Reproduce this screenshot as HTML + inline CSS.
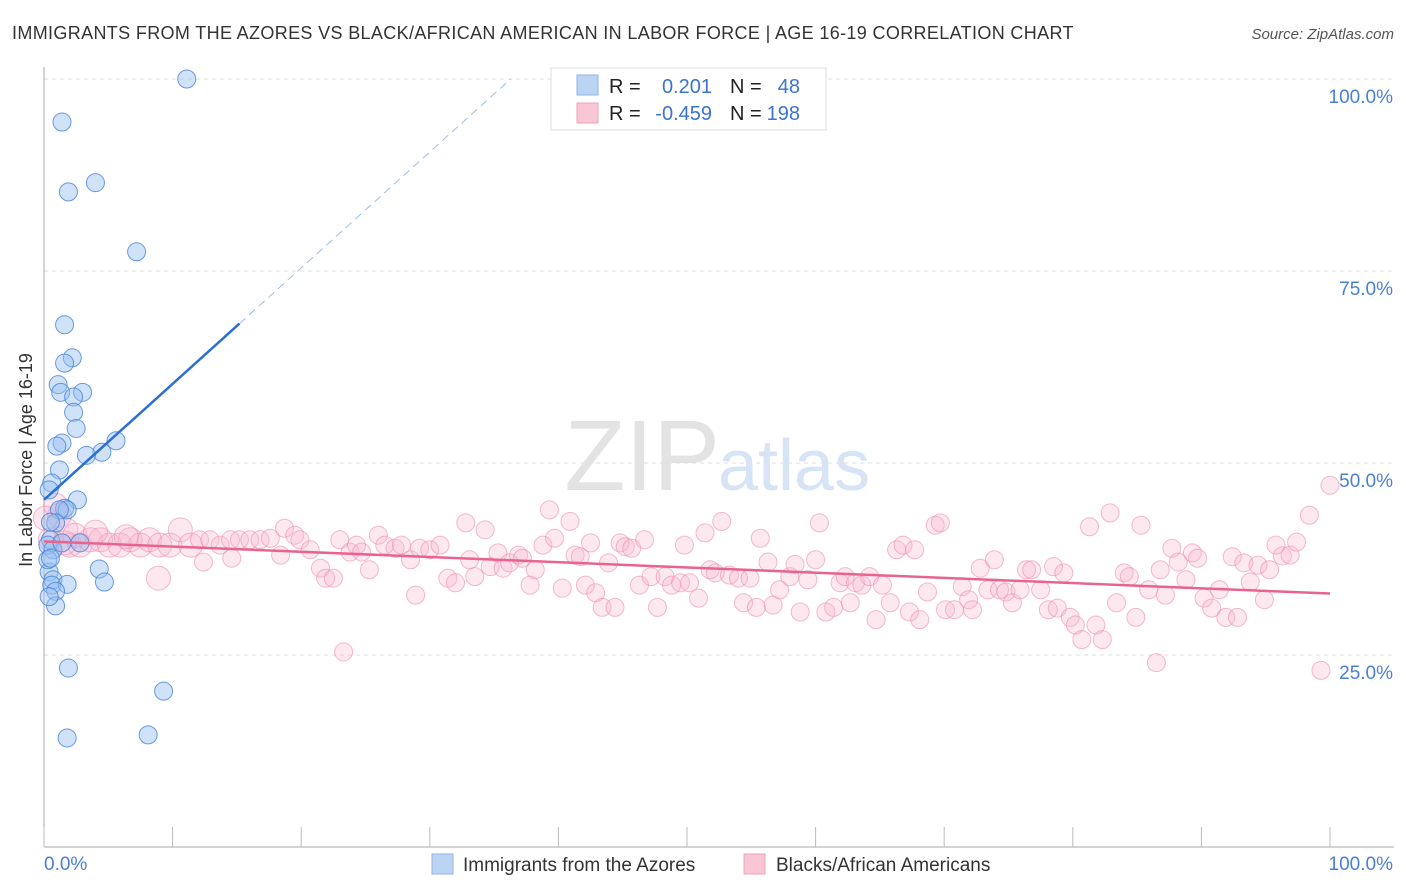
<!DOCTYPE html>
<html><head><meta charset="utf-8">
<style>
body{margin:0;background:#fff;font-family:"Liberation Sans",sans-serif;}
#wrap{position:relative;width:1406px;height:892px;overflow:hidden;}
svg text{font-family:"Liberation Sans",sans-serif;}
</style></head>
<body>
<div id="wrap">
<svg id="chart" width="1406" height="892" xmlns="http://www.w3.org/2000/svg">
<text x="12" y="39" font-size="18" fill="#333" letter-spacing="0.35">IMMIGRANTS FROM THE AZORES VS BLACK/AFRICAN AMERICAN IN LABOR FORCE | AGE 16-19 CORRELATION CHART</text>
<text x="1394" y="39" font-size="15" fill="#555" font-style="italic" text-anchor="end">Source: ZipAtlas.com</text>
<text x="0" y="0" font-size="18" fill="#333" text-anchor="middle" transform="translate(32,460) rotate(-90)">In Labor Force | Age 16-19</text>
<g id="grid"></g>
<g id="axes"></g>
<text x="720" y="490" font-size="100" fill="#e3e3e3" text-anchor="end" font-family="Liberation Serif">ZIP</text>
<text x="718" y="490" font-size="72" fill="#d6e4f5">atlas</text>
<g id="pink"></g>
<g id="blue"></g>
<g id="trends"></g>
<g>
<rect x="551" y="68" width="275" height="62" fill="#fff" stroke="#ddd"/>
<rect x="577" y="75" width="21" height="20" fill="#bcd4f4" stroke="#8fb3e6"/>
<rect x="577" y="103" width="21" height="20" fill="#f8c6d5" stroke="#f0a3bb"/>
<text x="609" y="93" font-size="20" fill="#222">R =</text>
<text x="712" y="93" font-size="20" fill="#3a73d0" text-anchor="end">0.201</text>
<text x="730" y="93" font-size="20" fill="#222">N =</text>
<text x="800" y="93" font-size="20" fill="#3a73d0" text-anchor="end">48</text>
<text x="609" y="120" font-size="20" fill="#222">R =</text>
<text x="712" y="120" font-size="20" fill="#3a73d0" text-anchor="end">-0.459</text>
<text x="730" y="120" font-size="20" fill="#222">N =</text>
<text x="800" y="120" font-size="20" fill="#3a73d0" text-anchor="end">198</text>
</g>
<g>
<rect x="432" y="854" width="21" height="20" fill="#bcd4f4" stroke="#8fb3e6"/>
<text x="463" y="871" font-size="19" fill="#333">Immigrants from the Azores</text>
<rect x="744" y="854" width="21" height="20" fill="#f8c6d5" stroke="#f0a3bb"/>
<text x="776" y="871" font-size="19" fill="#333">Blacks/African Americans</text>
</g>
</svg>
</div>
<script>
const yTicks=[25,50,75,100];
const yTickLabels=["25.0%","50.0%","75.0%","100.0%"];
const xEndLabels=["0.0%","100.0%"];
const blueX=[11.1,1.4,4.0,1.9,7.2,1.6,2.2,1.6,1.1,3.0,1.3,2.3,2.3,2.5,1.4,1.0,5.6,4.5,3.3,1.2,2.6,0.6,0.4,1.6,1.8,1.2,0.9,0.5,0.3,0.7,4.3,0.4,0.7,4.7,0.6,1.8,0.9,0.9,1.9,9.3,8.1,1.8,0.5,2.8,0.3,1.4,0.4,0.5];
const blueY=[100,94.4,86.5,85.3,77.5,68.0,63.7,63.0,60.2,59.2,59.2,58.6,56.6,54.5,52.6,52.2,52.9,51.4,51.0,49.1,45.2,47.4,46.5,44.1,43.9,43.9,42.2,40.0,39.3,38.7,36.2,35.8,34.8,34.5,34.1,34.2,33.3,31.4,23.3,20.3,14.6,14.2,42.3,39.6,37.4,39.6,32.6,37.6];
const pinkX=[0.9,1.2,1.7,0.5,2.0,2.8,3.6,4.4,5.1,5.9,6.7,7.5,8.2,9.0,9.8,10.6,11.4,12.1,12.9,13.7,14.5,15.2,16.0,16.8,17.6,18.4,18.7,19.5,19.9,20.7,21.5,21.9,22.5,23.0,23.8,24.3,24.7,25.3,26.0,26.5,27.3,27.8,28.5,28.9,29.2,30.0,30.8,31.4,32.0,32.8,33.1,33.5,34.3,34.7,35.3,35.7,36.2,36.9,37.2,37.8,38.2,38.8,39.3,39.7,40.3,40.9,41.3,41.7,42.1,42.5,42.9,43.4,43.9,44.4,44.8,45.2,45.7,46.3,46.7,47.2,47.7,48.3,48.8,49.5,49.8,50.2,50.9,51.4,51.8,52.2,52.7,53.3,54.0,54.4,54.9,55.4,55.7,56.3,56.7,57.2,58.0,58.4,58.8,59.4,60.0,60.3,60.8,61.4,61.9,62.3,62.7,63.1,63.6,64.2,64.7,65.2,65.8,66.3,66.8,67.3,67.7,68.1,68.7,69.3,69.7,70.1,70.8,71.4,71.9,72.2,72.8,73.4,73.9,74.3,74.8,75.3,75.9,76.4,76.8,77.5,78.1,78.5,78.8,79.3,79.8,80.2,80.7,81.3,81.8,82.3,82.9,83.4,84.0,84.4,84.9,85.3,85.9,86.5,86.8,87.2,87.7,88.2,88.8,89.3,89.7,90.2,90.8,91.4,91.9,92.4,92.8,93.3,93.8,94.4,94.9,95.3,95.8,96.3,96.9,97.4,98.4,99.3,100,8.9,23.3,14.6,12.4,0.1,1.6,2.4,4.0,6.4];
const pinkY=[44.5,43.2,41.3,40.0,39.3,39.3,40.0,40.0,39.3,39.3,40.0,39.3,40.0,39.3,39.3,41.3,39.3,40.0,40.0,39.3,40.0,40.0,40.0,40.0,40.2,38.0,41.5,40.6,40.0,38.7,36.3,35.0,35.0,40.0,38.4,39.3,38.4,36.1,40.6,39.3,38.9,39.3,37.4,32.8,38.9,38.7,39.3,35.0,34.4,42.2,37.4,35.2,41.3,36.5,38.3,36.3,37.0,38.0,37.6,34.1,36.1,39.3,43.9,40.2,33.7,42.4,38.0,37.8,34.1,39.6,33.1,31.2,37.0,31.2,39.6,39.1,38.9,34.1,40.0,35.2,31.2,35.2,34.1,34.4,39.3,34.4,32.4,40.9,36.1,35.7,42.4,35.4,35.0,31.8,35.0,31.2,40.2,37.1,31.5,33.5,35.2,36.8,30.6,34.8,37.4,42.2,30.6,31.2,34.4,35.2,31.8,34.4,34.1,35.2,29.6,34.1,31.8,38.7,39.3,30.6,38.7,29.6,33.2,41.9,42.2,30.9,30.9,33.9,32.2,30.9,36.3,33.5,37.4,33.5,33.2,31.8,33.5,36.1,36.1,33.5,30.9,36.5,31.1,35.7,29.9,28.9,27.0,41.7,28.9,27.0,43.5,31.8,35.7,35.2,29.9,41.9,33.5,24.0,36.1,32.8,38.9,37.1,34.8,38.3,37.6,32.4,31.1,33.5,29.9,37.8,29.9,37.0,34.5,36.7,32.2,36.1,39.3,37.9,38.0,39.7,43.2,23.0,47.1,35.0,25.4,37.6,37.1,42.8,39.6,40.6,41.0,40.4];
const pinkR=[];for(let i=0;i<pinkX.length;i++)pinkR.push(pinkX[i]<12?12:9);
const trendBlue=[45.2,1.51];
const trendPink=[39.8,33.0];

const NS="http://www.w3.org/2000/svg";
const X0=44,X1=1330,Y0=847,Y100=79;
const sx=v=>X0+(X1-X0)*v/100;
const sy=v=>Y0-(Y0-Y100)*v/100;
function mk(tag,attrs,parent){const e=document.createElementNS(NS,tag);for(const k in attrs)e.setAttribute(k,attrs[k]);parent.appendChild(e);return e;}
const grid=document.getElementById('grid'),axes=document.getElementById('axes');
yTicks.forEach((t,i)=>{
  const l=mk('line',{x1:X0,x2:1394,y1:sy(t),y2:sy(t),stroke:'#ddd','stroke-dasharray':'4,4'},grid);
  
  
  const tx=mk('text',{x:1393,y:sy(t)+24,'font-size':19,fill:'#4a7fd6','text-anchor':'end'},axes);
  tx.textContent=yTickLabels[i];
  
  
});
const ya=mk('line',{x1:X0,x2:X0,y1:67,y2:847,stroke:'#aaa'},axes);


const xa=mk('line',{x1:X0,x2:1394,y1:847,y2:847,stroke:'#aaa'},axes);


for(let i=0;i<=10;i++){
  const tk=mk('line',{x1:sx(i*10),x2:sx(i*10),y1:827,y2:847,stroke:'#bbb'},axes);
  
  
}
[[0,'start',X0],[1,'end',1393]].forEach(([i,a,x])=>{
  const t=mk('text',{x:x,y:870,'font-size':19,fill:'#4a7fd6','text-anchor':a},axes);
  t.textContent=xEndLabels[i];
  
  
});
const pg=document.getElementById('pink');
pinkX.forEach((x,i)=>{
  const c=mk('circle',{cx:sx(x),cy:sy(pinkY[i]),r:pinkR[i],fill:'rgba(248,180,204,0.3)',stroke:'rgba(238,140,175,0.6)','stroke-width':1},pg);
  
  
});
const bg=document.getElementById('blue');
blueX.forEach((x,i)=>{
  const c=mk('circle',{cx:sx(x),cy:sy(blueY[i]),r:9,fill:'rgba(150,190,240,0.45)',stroke:'rgba(70,130,220,0.8)','stroke-width':1},bg);
  
  
});
const tg=document.getElementById('trends');
const xSolidEnd=15.2,xDashEnd=(100-trendBlue[0])/trendBlue[1];
const bl=mk('line',{x1:sx(0),y1:sy(trendBlue[0]),x2:sx(xSolidEnd),y2:sy(trendBlue[0]+trendBlue[1]*xSolidEnd),stroke:'#2a6fd6','stroke-width':2.5},tg);


const bd=mk('line',{x1:sx(xSolidEnd),y1:sy(trendBlue[0]+trendBlue[1]*xSolidEnd),x2:sx(xDashEnd),y2:sy(100),stroke:'#9dbde8','stroke-width':1,'stroke-dasharray':'8,5'},tg);


const pl=mk('line',{x1:sx(0),y1:sy(trendPink[0]),x2:sx(100),y2:sy(trendPink[1]),stroke:'#e8648f','stroke-width':2.5},tg);


</script>
</body></html>
